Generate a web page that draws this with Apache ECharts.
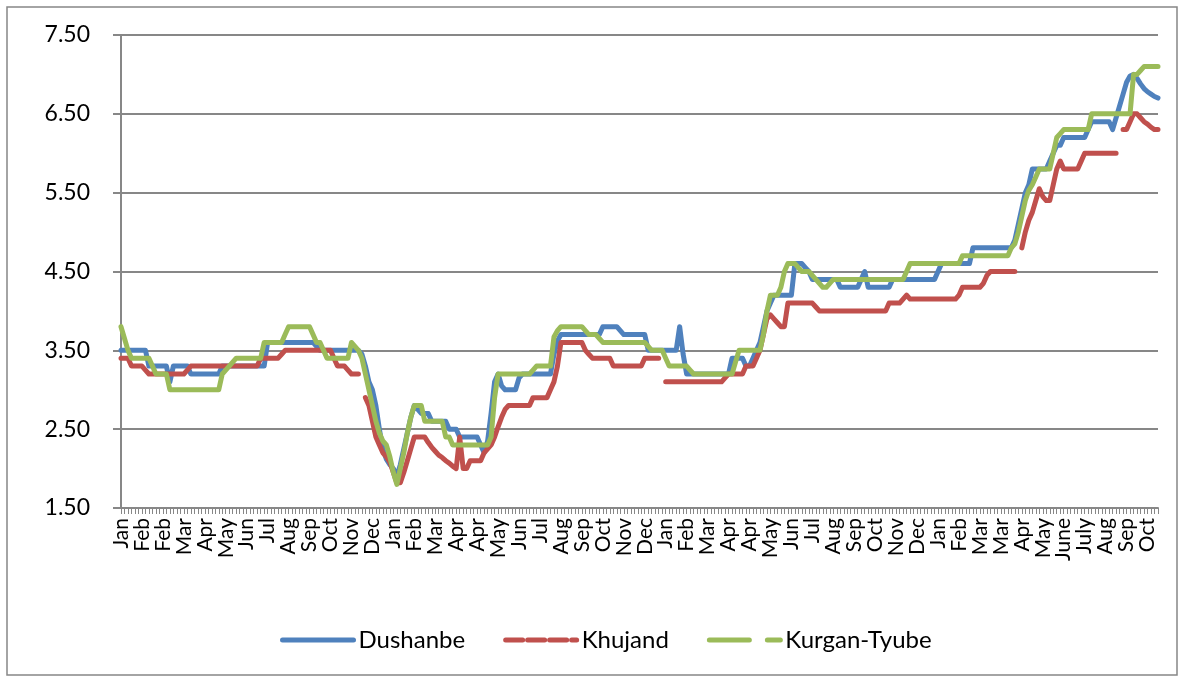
<!DOCTYPE html>
<html>
<head>
<meta charset="utf-8">
<script src="https://cdn.jsdelivr.net/npm/echarts@6/dist/echarts.min.js"></script>
<style>
  html, body { margin: 0; padding: 0; background: #fff; }
  #chart { width: 1182px; height: 679px; }
</style>
</head>
<body>
<div id="chart"></div>
<script>
// month label shown under every 6th point
const monthLabels = [
    'Jan', 'Feb', 'Feb', 'Mar', 'Apr', 'May', 'Jun', 'Jul', 'Aug', 'Sep', 'Oct', 'Nov', 'Dec',
    'Jan', 'Feb', 'Mar', 'Apr', 'Apr', 'May', 'Jun', 'Jul', 'Aug', 'Sep', 'Oct', 'Nov', 'Dec',
    'Jan', 'Feb', 'Mar', 'Apr', 'Apr', 'May', 'Jun', 'Jul', 'Aug', 'Sep', 'Oct', 'Nov', 'Dec',
    'Jan', 'Feb', 'Mar', 'Mar', 'Apr', 'May', 'June', 'July', 'Aug', 'Sep', 'Oct'
]
const pointCount = 298
const labelStep = 6

const dushanbe = [
    3.5, 3.5, 3.5, 3.5, 3.5, 3.5, 3.5, 3.5, 3.3, 3.3,
    3.3, 3.3, 3.3, 3.3, 3.1, 3.3, 3.3, 3.3, 3.3, 3.3,
    3.2, 3.2, 3.2, 3.2, 3.2, 3.2, 3.2, 3.2, 3.2, 3.3,
    3.3, 3.3, 3.3, 3.3, 3.3, 3.3, 3.3, 3.3, 3.3, 3.3,
    3.3, 3.3, 3.6, 3.6, 3.6, 3.6, 3.6, 3.6, 3.6, 3.6,
    3.6, 3.6, 3.6, 3.6, 3.6, 3.6, 3.55, 3.5, 3.5, 3.5,
    3.5, 3.5, 3.5, 3.5, 3.5, 3.5, 3.5, 3.5, 3.5, 3.45,
    3.3, 3.1, 3.0, 2.8, 2.5, 2.25, 2.12, 2.05, 2.0, 1.9,
    2.05, 2.25, 2.45, 2.65, 2.8, 2.75, 2.7, 2.7, 2.7, 2.6,
    2.6, 2.6, 2.6, 2.6, 2.5, 2.5, 2.5, 2.4, 2.4, 2.4,
    2.4, 2.4, 2.4, 2.3, 2.2, 2.35, 2.7, 3.1, 3.2, 3.05,
    3.0, 3.0, 3.0, 3.0, 3.15, 3.2, 3.2, 3.2, 3.2, 3.2,
    3.2, 3.2, 3.2, 3.2, 3.45, 3.62, 3.7, 3.7, 3.7, 3.7,
    3.7, 3.7, 3.7, 3.7, 3.7, 3.7, 3.7, 3.7, 3.8, 3.8,
    3.8, 3.8, 3.8, 3.75, 3.7, 3.7, 3.7, 3.7, 3.7, 3.7,
    3.7, 3.5, 3.5, 3.5, 3.5, 3.5, 3.5, 3.5, 3.5, 3.5,
    3.8, 3.45, 3.2, 3.2, 3.2, 3.2, 3.2, 3.2, 3.2, 3.2,
    3.2, 3.2, 3.2, 3.2, 3.2, 3.4, 3.4, 3.4, 3.4, 3.3,
    3.3, 3.4, 3.5, 3.6, 3.8, 4.0, 4.1, 4.2, 4.2, 4.2,
    4.2, 4.2, 4.2, 4.6, 4.6, 4.6, 4.55, 4.5, 4.4, 4.4,
    4.4, 4.4, 4.4, 4.4, 4.4, 4.4, 4.3, 4.3, 4.3, 4.3,
    4.3, 4.3, 4.4, 4.5, 4.3, 4.3, 4.3, 4.3, 4.3, 4.3,
    4.3, 4.4, 4.4, 4.4, 4.4, 4.4, 4.4, 4.4, 4.4, 4.4,
    4.4, 4.4, 4.4, 4.4, 4.5, 4.6, 4.6, 4.6, 4.6, 4.6,
    4.6, 4.6, 4.6, 4.6, 4.8, 4.8, 4.8, 4.8, 4.8, 4.8,
    4.8, 4.8, 4.8, 4.8, 4.8, 4.8, 4.9, 5.1, 5.3, 5.5,
    5.6, 5.8, 5.8, 5.8, 5.8, 5.8, 5.9, 6.0, 6.1, 6.1,
    6.2, 6.2, 6.2, 6.2, 6.2, 6.2, 6.2, 6.3, 6.4, 6.4,
    6.4, 6.4, 6.4, 6.4, 6.3, 6.45, 6.6, 6.75, 6.9, 6.98,
    7.0, 6.95, 6.88, 6.82, 6.78, 6.75, 6.72, 6.7
]

// null = break in the line (gaps of the dashed line in the original)
const khujand = [
    3.4, 3.4, 3.4, 3.3, 3.3, 3.3, 3.3, 3.25, 3.2, 3.2,
    3.2, 3.2, 3.2, 3.2, 3.2, 3.2, 3.2, 3.2, 3.2, 3.25,
    3.3, 3.3, 3.3, 3.3, 3.3, 3.3, 3.3, 3.3, 3.3, 3.3,
    3.3, 3.3, 3.3, 3.3, 3.3, 3.3, 3.3, 3.3, 3.3, 3.3,
    3.4, 3.4, 3.4, 3.4, 3.4, 3.4, 3.45, 3.5, 3.5, 3.5,
    3.5, 3.5, 3.5, 3.5, 3.5, 3.5, 3.5, 3.5, 3.5, 3.5,
    3.5, 3.4, 3.3, 3.3, 3.3, 3.25, 3.2, 3.2, 3.2, null,
    2.9, 2.8, 2.6, 2.4, 2.3, 2.2, 2.15, 2.08, 1.95, 1.82,
    1.82, 1.95, 2.1, 2.25, 2.4, 2.4, 2.4, 2.4, 2.33, 2.27,
    2.22, 2.17, 2.14, 2.1, 2.07, 2.03, 2.0, 2.4, 2.0, 2.0,
    2.1, 2.1, 2.1, 2.1, 2.2, 2.25, 2.3, 2.4, 2.53, 2.65,
    2.75, 2.8, 2.8, 2.8, 2.8, 2.8, 2.8, 2.8, 2.9, 2.9,
    2.9, 2.9, 2.9, 3.0, 3.1, 3.3, 3.6, 3.6, 3.6, 3.6,
    3.6, 3.6, 3.6, 3.5, 3.45, 3.4, 3.4, 3.4, 3.4, 3.4,
    3.4, 3.3, 3.3, 3.3, 3.3, 3.3, 3.3, 3.3, 3.3, 3.3,
    3.4, 3.4, 3.4, 3.4, 3.4, null, 3.1, 3.1, 3.1, 3.1,
    3.1, 3.1, 3.1, 3.1, 3.1, 3.1, 3.1, 3.1, 3.1, 3.1,
    3.1, 3.1, 3.1, 3.15, 3.2, 3.2, 3.2, 3.2, 3.2, 3.3,
    3.3, 3.3, 3.4, 3.5, 3.7, 3.9, 3.95, 3.9, 3.85, 3.8,
    3.8, 4.1, 4.1, 4.1, 4.1, 4.1, 4.1, 4.1, 4.1, 4.05,
    4.0, 4.0, 4.0, 4.0, 4.0, 4.0, 4.0, 4.0, 4.0, 4.0,
    4.0, 4.0, 4.0, 4.0, 4.0, 4.0, 4.0, 4.0, 4.0, 4.0,
    4.1, 4.1, 4.1, 4.1, 4.15, 4.2, 4.15, 4.15, 4.15, 4.15,
    4.15, 4.15, 4.15, 4.15, 4.15, 4.15, 4.15, 4.15, 4.15, 4.15,
    4.2, 4.3, 4.3, 4.3, 4.3, 4.3, 4.3, 4.35, 4.45, 4.5,
    4.5, 4.5, 4.5, 4.5, 4.5, 4.5, 4.5, null, 4.8, 5.0,
    5.15, 5.25, 5.4, 5.55, 5.45, 5.4, 5.4, 5.6, 5.8, 5.9,
    5.8, 5.8, 5.8, 5.8, 5.8, 5.9, 6.0, 6.0, 6.0, 6.0,
    6.0, 6.0, 6.0, 6.0, 6.0, 6.0, null, 6.3, 6.3, 6.4,
    6.5, 6.5, 6.45, 6.4, 6.37, 6.33, 6.3, 6.3
]

const kurganTyube = [
    3.8, 3.65, 3.5, 3.4, 3.4, 3.4, 3.4, 3.4, 3.4, 3.3,
    3.2, 3.2, 3.2, 3.2, 3.0, 3.0, 3.0, 3.0, 3.0, 3.0,
    3.0, 3.0, 3.0, 3.0, 3.0, 3.0, 3.0, 3.0, 3.0, 3.2,
    3.25, 3.3, 3.35, 3.4, 3.4, 3.4, 3.4, 3.4, 3.4, 3.4,
    3.4, 3.6, 3.6, 3.6, 3.6, 3.6, 3.6, 3.7, 3.8, 3.8,
    3.8, 3.8, 3.8, 3.8, 3.8, 3.7, 3.6, 3.6, 3.5, 3.4,
    3.4, 3.4, 3.4, 3.4, 3.4, 3.4, 3.6, 3.55, 3.5, 3.4,
    3.2, 3.0, 2.8, 2.6, 2.45, 2.35, 2.3, 2.15, 1.95, 1.8,
    2.0, 2.2, 2.45, 2.65, 2.8, 2.8, 2.8, 2.6, 2.6, 2.6,
    2.6, 2.6, 2.6, 2.4, 2.4, 2.3, 2.3, 2.3, 2.3, 2.3,
    2.3, 2.3, 2.3, 2.3, 2.3, 2.3, 2.4, 2.9, 3.2, 3.2,
    3.2, 3.2, 3.2, 3.2, 3.2, 3.2, 3.2, 3.2, 3.25, 3.3,
    3.3, 3.3, 3.3, 3.3, 3.67, 3.75, 3.8, 3.8, 3.8, 3.8,
    3.8, 3.8, 3.8, 3.75, 3.7, 3.7, 3.7, 3.65, 3.6, 3.6,
    3.6, 3.6, 3.6, 3.6, 3.6, 3.6, 3.6, 3.6, 3.6, 3.6,
    3.6, 3.55, 3.5, 3.5, 3.5, 3.5, 3.4, 3.3, 3.3, 3.3,
    3.3, 3.3, 3.3, 3.25, 3.2, 3.2, 3.2, 3.2, 3.2, 3.2,
    3.2, 3.2, 3.2, 3.2, 3.2, 3.2, 3.35, 3.5, 3.5, 3.5,
    3.5, 3.5, 3.5, 3.5, 3.7, 4.0, 4.2, 4.2, 4.2, 4.3,
    4.5, 4.6, 4.6, 4.6, 4.55, 4.5, 4.5, 4.5, 4.45, 4.4,
    4.35, 4.3, 4.3, 4.35, 4.4, 4.4, 4.4, 4.4, 4.4, 4.4,
    4.4, 4.4, 4.4, 4.4, 4.4, 4.4, 4.4, 4.4, 4.4, 4.4,
    4.4, 4.4, 4.4, 4.4, 4.4, 4.5, 4.6, 4.6, 4.6, 4.6,
    4.6, 4.6, 4.6, 4.6, 4.6, 4.6, 4.6, 4.6, 4.6, 4.6,
    4.6, 4.7, 4.7, 4.7, 4.7, 4.7, 4.7, 4.7, 4.7, 4.7,
    4.7, 4.7, 4.7, 4.7, 4.7, 4.8, 4.85, 5.0, 5.2, 5.4,
    5.53, 5.6, 5.7, 5.8, 5.8, 5.8, 5.8, 6.0, 6.2, 6.25,
    6.3, 6.3, 6.3, 6.3, 6.3, 6.3, 6.3, 6.3, 6.5, 6.5,
    6.5, 6.5, 6.5, 6.5, 6.5, 6.5, 6.5, 6.5, 6.5, 6.5,
    7.0, 7.0, 7.05, 7.1, 7.1, 7.1, 7.1, 7.1
]

const yTicks = { min: 1.5, max: 7.5, step: 1 }

// one category per point, the month name only where a label sits
let categories = []
for (let i = 0; i < pointCount; i++) {
    categories.push(i % labelStep === 0 ? (monthLabels[i / labelStep] ?? '') : '')
}

const FONT = 'Lato, "Open Sans", "Noto Sans", sans-serif'
const GRAY = '#878787'

let chart = echarts.init(document.getElementById('chart'), null, { renderer: 'canvas' })

let lineSeries = (name, data, color) => {
    return {
        name: name,
        type: 'line',
        data: data,
        symbol: 'none',
        connectNulls: false,
        color: color,
        lineStyle: { width: 5, color: color, cap: 'round', join: 'round' },
        animation: false
    }
}

chart.setOption({
    backgroundColor: '#fff',
    animation: false,
    grid: {
        left: 121,
        right: 24,
        top: 35,
        bottom: 171,
        outerBoundsMode: 'none'
    },
    xAxis: {
        type: 'category',
        data: categories,
        boundaryGap: false,
        axisLine: { lineStyle: { color: GRAY, width: 2 } },
        axisTick: { show: true, interval: 0, length: 6, lineStyle: { color: GRAY, width: 1 } },
        axisLabel: {
            interval: labelStep - 1,
            rotate: 90,
            margin: 10,
            color: '#000',
            fontFamily: FONT,
            fontSize: 21
        },
        splitLine: { show: false }
    },
    yAxis: {
        type: 'value',
        min: yTicks.min,
        max: yTicks.max,
        interval: yTicks.step,
        axisLine: { show: true, lineStyle: { color: GRAY, width: 2 } },
        axisTick: { show: true, length: 8, lineStyle: { color: GRAY, width: 2 } },
        axisLabel: {
            margin: 31,
            color: '#000',
            fontFamily: FONT,
            fontSize: 23,
            formatter: (v) => v.toFixed(2)
        },
        splitLine: { show: true, lineStyle: { color: GRAY, width: 2 } }
    },
    legend: {
        left: 275,
        top: 623,
        itemWidth: 71,
        itemHeight: 10,
        itemGap: 38,
        itemStyle: { opacity: 0 },
        textStyle: { color: '#000', fontFamily: FONT, fontSize: 24 },
        data: [
            { name: 'Dushanbe', lineStyle: { width: 5, type: 'solid', cap: 'round' } },
            { name: 'Khujand', lineStyle: { width: 5, type: [17, 5] } },
            { name: 'Kurgan-Tyube', lineStyle: { width: 5, type: [40, 18] } }
        ]
    },
    graphic: [
        {
            type: 'rect',
            shape: { x: 7, y: 7, width: 1170, height: 668 },
            style: { fill: null, stroke: GRAY, lineWidth: 1.5 },
            silent: true
        }
    ],
    series: [
        lineSeries('Dushanbe', dushanbe, '#4F81BD'),
        lineSeries('Khujand', khujand, '#C0504D'),
        lineSeries('Kurgan-Tyube', kurganTyube, '#9BBB59')
    ]
})
</script>
</body>
</html>
